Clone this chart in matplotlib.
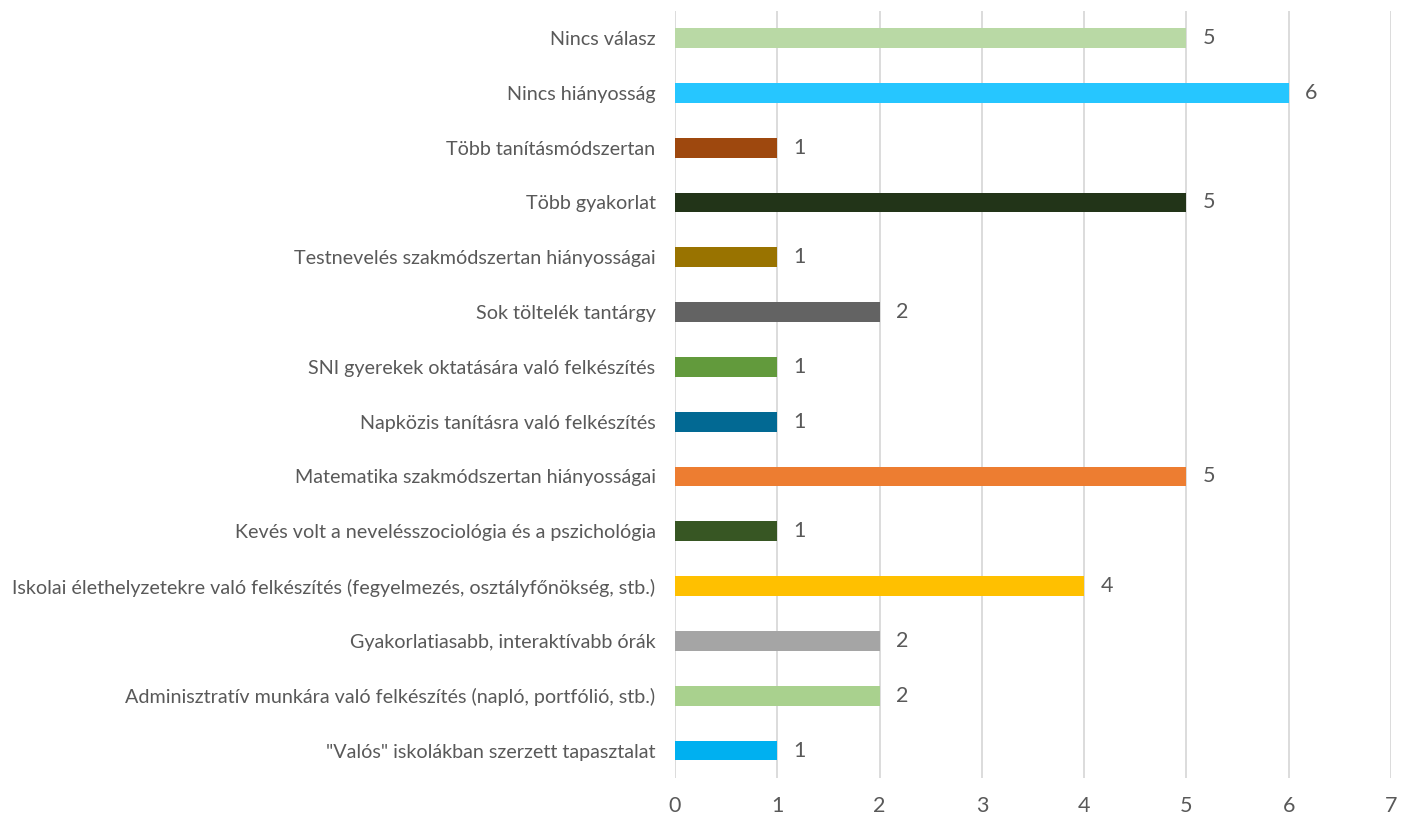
import matplotlib.pyplot as plt

# categories from bottom to top
categories = [
    '"Valós" iskolákban szerzett tapasztalat',
    'Adminisztratív munkára való felkészítés (napló, portfólió, stb.)',
    'Gyakorlatiasabb, interaktívabb órák',
    'Iskolai élethelyzetekre való felkészítés (fegyelmezés, osztályfőnökség, stb.)',
    'Kevés volt a nevelésszociológia és a pszichológia',
    'Matematika szakmódszertan hiányosságai',
    'Napközis tanításra való felkészítés',
    'SNI gyerekek oktatására való felkészítés',
    'Sok töltelék tantárgy',
    'Testnevelés szakmódszertan hiányosságai',
    'Több gyakorlat',
    'Több tanításmódszertan',
    'Nincs hiányosság',
    'Nincs válasz',
]
values = [1, 2, 2, 4, 1, 5, 1, 1, 2, 1, 5, 1, 6, 5]
colors = ['#00B0F0', '#A9D18E', '#A5A5A5', '#FFC000', '#375623', '#ED7D31',
          '#026993', '#629A3C', '#636363', '#997300', '#223418', '#9E480E',
          '#26C6FF', '#B9D9A5']
x_ticks = [0, 1, 2, 3, 4, 5, 6, 7]

plt.rcParams['font.family'] = ['Lato', 'DejaVu Sans']
text_color = '#595959'

fig = plt.figure(figsize=(14.01, 8.18), dpi=100)
ax = fig.add_axes([0.4818, 0.049, 0.5111, 0.938])

y = list(range(len(categories)))
ax.barh(y, values, height=0.36, color=colors, zorder=3)
for yi, v in zip(y, values):
    ax.text(v + 0.16, yi, str(v), va='center', ha='left', fontsize=15.5, color=text_color)

ax.set_xlim(0, 7)
ax.set_ylim(-0.5, len(categories) - 0.5)
ax.set_xticks(x_ticks)
ax.set_yticks(y)
ax.set_yticklabels(categories, fontsize=14.25, color=text_color)
ax.tick_params(axis='x', length=0, labelsize=15.5, labelcolor=text_color, pad=13)
ax.tick_params(axis='y', length=0, pad=14)
ax.grid(axis='x', color='#D9D9D9', linewidth=1.3, zorder=0)
for s in ax.spines.values():
    s.set_visible(False)

fig.savefig('out.png', dpi=100)
